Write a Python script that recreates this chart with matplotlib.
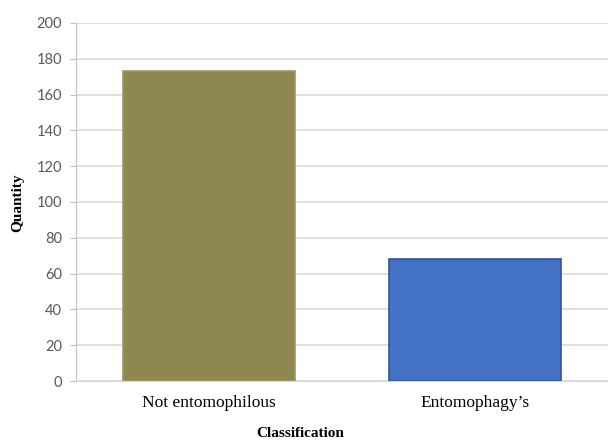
import matplotlib
matplotlib.use("Agg")
import matplotlib.pyplot as plt

categories = ["Not entomophilous", "Entomophagy\u2019s"]
values = [173, 68]
colors = ["#8F8750", "#4472C4"]
edges = ["#A09860", "#2F5597"]
yticks = [0, 20, 40, 60, 80, 100, 120, 140, 160, 180, 200]

fig = plt.figure(figsize=(6.08, 4.4), dpi=100)
ax = fig.add_axes([0.125, 0.134, 0.875, 0.814])

x = list(range(len(categories)))
ax.bar(x, values, width=0.647, color=colors, edgecolor=edges, linewidth=1.2, zorder=3)
ax.set_xlim(-0.5, 1.5)
ax.set_ylim(0, 200)
ax.set_yticks(yticks)
ax.set_xticks(x)
ax.set_xticklabels(categories, fontfamily="Liberation Serif", fontsize=12.5, color="#000000")
for lab in ax.get_yticklabels():
    lab.set_fontfamily("Lato")
    lab.set_fontsize(10.5)
    lab.set_color("#595959")
ax.yaxis.grid(True, color="#D9D9D9", linewidth=1.2, zorder=0)
ax.set_axisbelow(True)
for s in ["top", "right"]:
    ax.spines[s].set_visible(False)
ax.spines["left"].set_color("#BFBFBF")
ax.spines["bottom"].set_color("#D9D9D9")
ax.tick_params(axis="y", length=4, color="#BFBFBF", pad=6)
ax.tick_params(axis="x", length=0, pad=10)
fig.text(18 / 608, 1 - 203 / 440, "Quantity", ha="center", va="center", rotation=90,
         fontfamily="Liberation Serif", fontweight="bold", fontsize=11)
fig.text(300 / 608, 1 - 433 / 440, "Classification", ha="center", va="center",
         fontfamily="Liberation Serif", fontweight="bold", fontsize=11)

fig.savefig("out.png", dpi=100)
